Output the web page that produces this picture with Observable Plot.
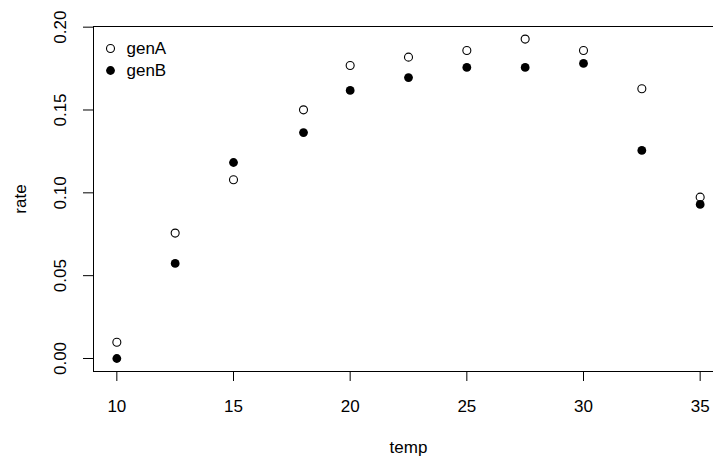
<!DOCTYPE html>
<html>
<head>
<meta charset="utf-8">
<script src="https://cdn.jsdelivr.net/npm/d3@7"></script>
<script src="https://cdn.jsdelivr.net/npm/@observablehq/plot@0.6"></script>
<style>
  html, body { margin: 0; padding: 0; background: white; overflow: hidden; }
</style>
</head>
<body>
<div id="chart"></div>
<script>
const temp = [10, 12.5, 15, 18, 20, 22.5, 25, 27.5, 30, 32.5, 35];
const genA = [0.0098, 0.0757, 0.1079, 0.1501, 0.1769, 0.1819, 0.1859, 0.1928, 0.1859, 0.1628, 0.0974];
const genB = [0.0000, 0.0574, 0.1183, 0.1364, 0.1618, 0.1696, 0.1757, 0.1757, 0.1781, 0.1256, 0.0930];
const xTicks = [10, 15, 20, 25, 30, 35];
const yTicks = [0, 0.05, 0.10, 0.15, 0.20];
const series = ["genA", "genB"];

const dataA = temp.map((t, i) => ({temp: t, rate: genA[i]}));
const dataB = temp.map((t, i) => ({temp: t, rate: genB[i]}));

const font = "'Liberation Sans', Arial, Helvetica, sans-serif";
const fs = 17;

const chart = Plot.plot({
  width: 713,
  height: 457,
  marginLeft: 93,
  marginTop: 26,
  marginBottom: 86,
  marginRight: -10,
  style: {fontFamily: font, fontSize: fs + "px", background: "white", color: "black"},
  x: {domain: [9, 36]},
  y: {domain: [-0.00785, 0.2004]},
  marks: [
    Plot.frame({stroke: "black", strokeWidth: 1}),
    Plot.axisX({ticks: xTicks, tickSize: 10, tickPadding: 18.6, tickFormat: d => String(d), label: null, fontSize: fs}),
    Plot.axisY({ticks: yTicks, tickSize: 10, tickFormat: () => "", label: null}),
    Plot.text(yTicks, {y: d => d, text: d => d.toFixed(2), frameAnchor: "left", dx: -33.4, rotate: -90, textAnchor: "middle", lineAnchor: "middle", fontSize: fs, fill: "black"}),
    Plot.text(["temp"], {frameAnchor: "bottom", dy: 76, text: d => d, textAnchor: "middle", lineAnchor: "middle", fontSize: fs, fill: "black"}),
    Plot.text(["rate"], {frameAnchor: "left", dx: -73.4, text: d => d, rotate: -90, textAnchor: "middle", lineAnchor: "middle", fontSize: fs, fill: "black"}),
    Plot.dot(dataA, {x: "temp", y: "rate", r: 4, stroke: "black", strokeWidth: 1.1, fill: "white"}),
    Plot.dot(dataB, {x: "temp", y: "rate", r: 4.4, fill: "black", stroke: "none"}),
    // legend
    Plot.dot([series[0]], {frameAnchor: "top-left", dx: 17, dy: 22, r: 4, stroke: "black", strokeWidth: 1.1, fill: "white"}),
    Plot.dot([series[1]], {frameAnchor: "top-left", dx: 17, dy: 44, r: 4.4, fill: "black", stroke: "none"}),
    Plot.text([series[0]], {frameAnchor: "top-left", dx: 33, dy: 22, text: d => d, textAnchor: "start", lineAnchor: "middle", fontSize: fs, fill: "black"}),
    Plot.text([series[1]], {frameAnchor: "top-left", dx: 33, dy: 44, text: d => d, textAnchor: "start", lineAnchor: "middle", fontSize: fs, fill: "black"})
  ]
});
document.getElementById("chart").appendChild(chart);
</script>
</body>
</html>
